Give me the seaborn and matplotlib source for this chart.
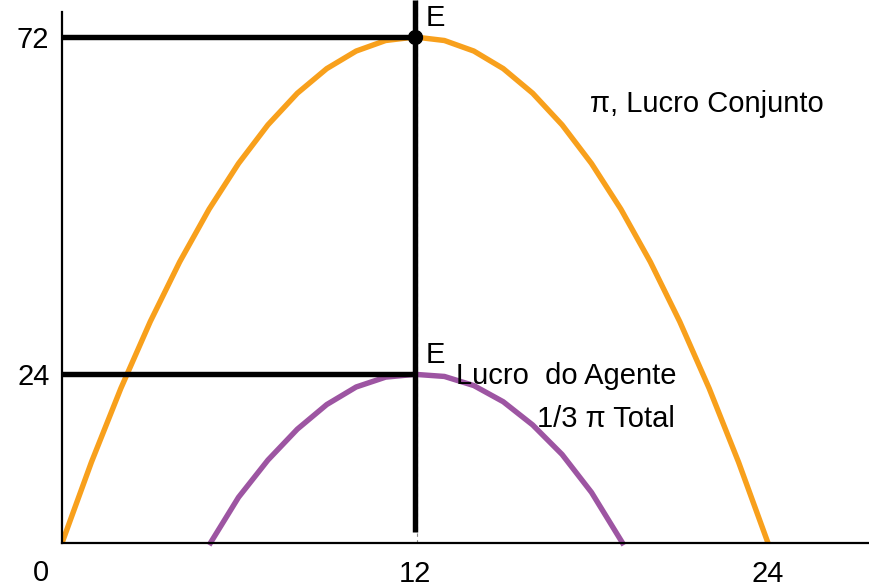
import numpy as np
import pandas as pd
import matplotlib
matplotlib.use("Agg")
import matplotlib.pyplot as plt
import seaborn as sns

# ---- data ----
joint_x = [0, 1, 2, 3, 4, 5, 6, 7, 8, 9, 10, 11, 12, 13, 14, 15, 16, 17, 18, 19, 20, 21, 22, 23, 24]
joint_profit = [0, 11.5, 22, 31.5, 40, 47.5, 54, 59.5, 64, 67.5, 70, 71.5, 72, 71.5, 70, 67.5,
                64, 59.5, 54, 47.5, 40, 31.5, 22, 11.5, 0]

agent_x = [5.0, 6, 7, 8, 9, 10, 11, 12, 13, 14, 15, 16, 17, 18, 19.1]
agent_profit = [-0.3, 6.5, 11.8, 16.2, 19.7, 22.2, 23.6, 24.0, 23.7, 22.4, 20.1, 16.8, 12.6, 7.2, -0.3]

x_ticks = [12, 24]
x_tick_labels = ["12", "24"]
y_ticks = [24, 72]
y_tick_labels = ["24", "72"]

eq_x = 12
eq_joint = 72
eq_agent = 24

ORANGE = "#F8A01C"
PURPLE = "#9D55A2"

sns.set_style("white")
plt.rcParams["font.family"] = ["Liberation Sans", "DejaVu Sans"]
plt.rcParams["text.color"] = "black"
plt.rcParams["xtick.color"] = "black"
plt.rcParams["ytick.color"] = "black"

W, H = 869, 587
fig = plt.figure(figsize=(W / 100, H / 100), dpi=100)
x0, y0 = 62, 543          # origin in pixels
px_x = (768 - 62) / 24    # pixels per x unit
px_y = (543 - 37) / 72    # pixels per y unit
ax = fig.add_axes([x0 / W, (H - y0) / H, (W - x0) / W, y0 / H])
ax.set_xlim(0, (W - x0) / px_x)
ax.set_ylim(0, y0 / px_y)

df_joint = pd.DataFrame({"x": joint_x, "y": joint_profit})
df_agent = pd.DataFrame({"x": agent_x, "y": agent_profit})

# guide lines
ax.plot([eq_x + 0.08, eq_x + 0.08], [0, y0 / px_y], color="0.55", lw=0.8,
        ls=(0, (3, 3)), zorder=1)
ax.plot([0, eq_x], [eq_joint, eq_joint], color="black", lw=3.9, zorder=3)
ax.plot([0, eq_x], [eq_agent, eq_agent], color="black", lw=3.9, zorder=3)
ax.plot([eq_x, eq_x], [1.6, y0 / px_y], color="black", lw=3.9, zorder=3)

sns.lineplot(data=df_joint, x="x", y="y", ax=ax, color=ORANGE, lw=3.9,
             sort=False, zorder=2)
sns.lineplot(data=df_agent, x="x", y="y", ax=ax, color=PURPLE, lw=3.9,
             sort=False, zorder=2, clip_on=False)
for ln in ax.lines:
    ln.set_solid_capstyle("butt")

ax.plot([eq_x], [eq_joint], "o", color="black", ms=10, zorder=5)

fs = 21
ax.text(eq_x + 0.35, eq_joint + 1.6, "E", fontsize=fs, va="baseline", ha="left")
ax.text(eq_x + 0.35, eq_agent + 1.6, "E", fontsize=fs, va="baseline", ha="left")
ax.text(17.95, 61.35, "π, Lucro Conjunto", fontsize=fs, va="baseline", ha="left")
ax.text(13.4, 22.6, "Lucro  do Agente", fontsize=fs, va="baseline", ha="left")
ax.text(16.15, 16.5, "1/3 π Total", fontsize=fs, va="baseline", ha="left")
ax.text(-0.7, -5.4, "0", fontsize=fs, va="baseline", ha="center", clip_on=False)

ax.set_xticks(x_ticks)
ax.set_xticklabels(x_tick_labels, fontsize=fs)
ax.set_yticks(y_ticks)
ax.set_yticklabels(y_tick_labels, fontsize=fs)
ax.tick_params(axis="x", length=0, pad=12)
ax.tick_params(axis="y", length=0, pad=9)
ax.set_xlabel("")
ax.set_ylabel("")

sns.despine(ax=ax, top=True, right=True)
for s in ["left", "bottom"]:
    ax.spines[s].set_linewidth(1.6)
    ax.spines[s].set_color("black")
ax.spines["left"].set_bounds(0, (y0 - 12) / px_y)

fig.savefig("out.png", dpi=100)
